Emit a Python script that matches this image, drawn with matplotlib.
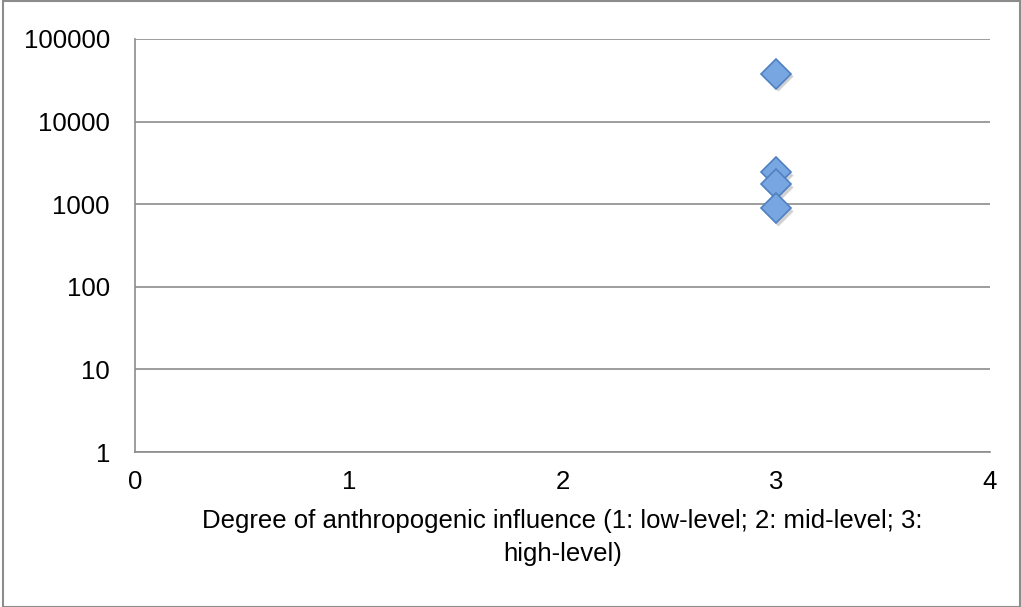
import matplotlib
matplotlib.use("Agg")
import matplotlib.pyplot as plt
from matplotlib.patches import Rectangle

plt.rcParams['font.family'] = ['Liberation Sans', 'DejaVu Sans']

x_vals = [3, 3, 3, 3]
y_vals = [38000, 2450, 1750, 900]
x_ticks = [0, 1, 2, 3, 4]
y_ticks = [1, 10, 100, 1000, 10000, 100000]
y_tick_labels = ["1", "10", "100", "1000", "10000", "100000"]
x_label = "Degree of anthropogenic influence (1: low-level; 2: mid-level; 3:\nhigh-level)"

fig = plt.figure(figsize=(10.21, 6.07), dpi=100)
ax = fig.add_axes([135/1021, 1-452/607, (990-135)/1021, (452-39)/607])

ax.set_yscale('log')
ax.set_xlim(0, 4)
ax.set_ylim(1, 100000)
ax.set_xticks(x_ticks)
ax.set_xticklabels([str(t) for t in x_ticks])
ax.set_yticks(y_ticks)
ax.set_yticklabels(y_tick_labels)
ax.minorticks_off()
ax.tick_params(axis='both', length=0, labelsize=18.5, colors='black')
ax.tick_params(axis='y', pad=18)
ax.tick_params(axis='x', pad=13)
ax.grid(axis='y', color='#8c8c8c', linewidth=1.2)
ax.set_axisbelow(True)
for s in ['top', 'right']:
    ax.spines[s].set_visible(False)
for s in ['left', 'bottom']:
    ax.spines[s].set_color('#8c8c8c')
    ax.spines[s].set_linewidth(1.2)

# shadow
ax.plot(x_vals, y_vals, linestyle='none', marker='D', markersize=15,
        markerfacecolor='#999999', markeredgecolor='none', alpha=0.45,
        transform=ax.transData + matplotlib.transforms.ScaledTranslation(1.5/72, -2/72, fig.dpi_scale_trans))
ax.plot(x_vals, y_vals, linestyle='none', marker='D', markersize=15,
        markerfacecolor='#78a6e0', markeredgecolor='#4f80c2', markeredgewidth=1.2)

ax.set_xlabel(x_label, fontsize=18.5, labelpad=11, linespacing=1.45)

fig.patches.append(Rectangle((3/1021, 0), 1-4/1021, 1-1/607, transform=fig.transFigure,
                             fill=False, edgecolor='#8c8c8c', linewidth=1.5))

fig.savefig("out.png", dpi=100)
